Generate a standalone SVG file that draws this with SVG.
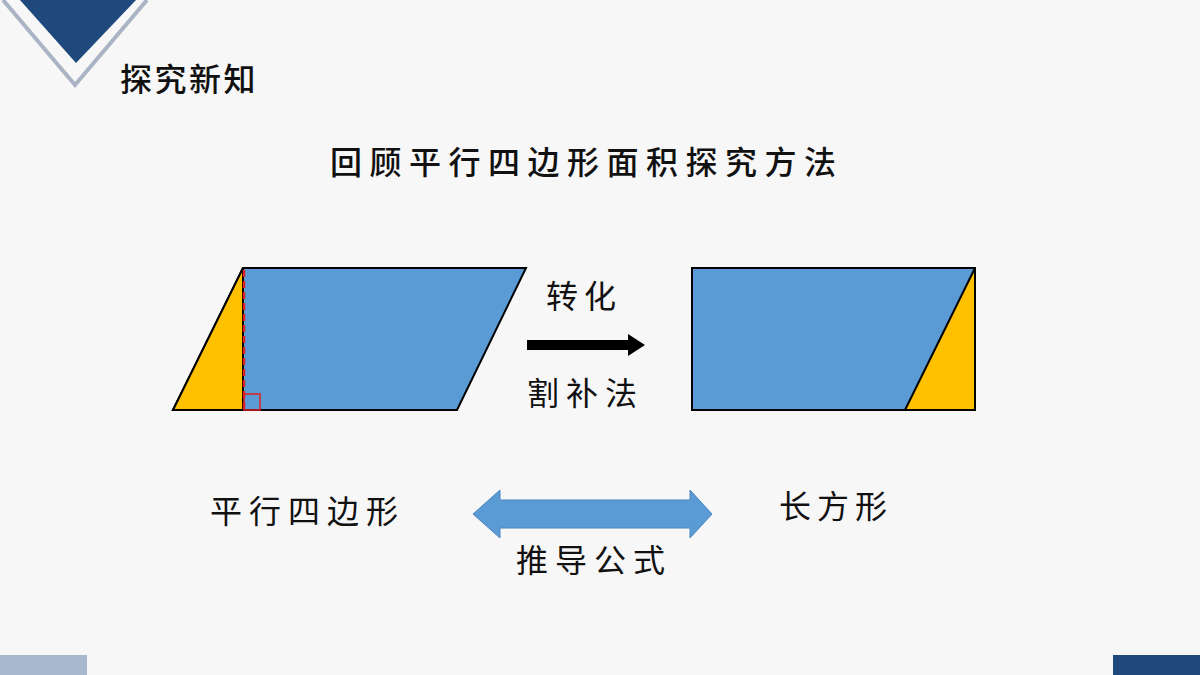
<svg xmlns="http://www.w3.org/2000/svg" width="1200" height="675" viewBox="0 0 1200 675">
<style>
.t{font-family:"Noto Sans CJK SC",sans-serif;fill:#111}
.s{stroke:#000;stroke-width:2}
</style>
<rect width="1200" height="675" fill="#f7f7f7"/>
<g id="deco">
<polyline points="3,0 75,85 147,0" fill="none" stroke="#aab4c4" stroke-width="4"/>
<polygon points="20,0 136,0 76,63" fill="#1f497d"/>
<rect x="0" y="655" width="87" height="20" fill="#a7b8cf"/>
<rect x="1113" y="655" width="87" height="20" fill="#1f497d"/>
</g>
<text class="t" x="120" y="91" font-size="32" letter-spacing="2.5" font-weight="500">探究新知</text>
<text class="t" x="330" y="174" font-size="32" letter-spacing="7.5" font-weight="500">回顾平行四边形面积探究方法</text>
<g id="parallelogram">
<polygon class="s" points="173,410 243,268 526,268 457,410" fill="#5b9bd5"/>
<polygon class="s" points="173,410 243,268 243,410" fill="#ffc000"/>
<line x1="244" y1="270" x2="244" y2="410" stroke="#e02020" stroke-width="2.5" stroke-dasharray="7,4"/>
<rect x="244" y="394" width="16" height="16" fill="none" stroke="#e02020" stroke-width="1.5"/>
</g>
<g id="rectangle">
<rect class="s" x="692" y="268" width="283" height="142" fill="#5b9bd5"/>
<polygon class="s" points="905,410 975,268 975,410" fill="#ffc000"/>
</g>
<g id="connectors">
<polygon points="527,340 628,340 628,334 645,345 628,356 628,350 527,350" fill="#000"/>
<polygon points="473,514 500,490 500,500 690,500 690,490 712,514 690,538 690,528 500,528 500,538" fill="#5b9bd5" stroke="#4a86c0" stroke-width="1"/>
</g>
<text class="t" x="546" y="308" font-size="32" letter-spacing="6">转化</text>
<text class="t" x="527" y="405" font-size="32" letter-spacing="7">割补法</text>
<text class="t" x="210" y="523" font-size="32" letter-spacing="7">平行四边形</text>
<text class="t" x="779" y="518" font-size="32" letter-spacing="6">长方形</text>
<text class="t" x="516" y="572" font-size="32" letter-spacing="7">推导公式</text>
</svg>
